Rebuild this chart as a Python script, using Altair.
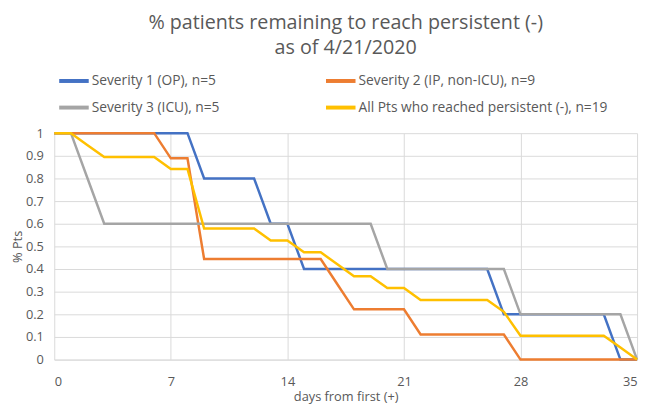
import altair as alt
import pandas as pd

days = list(range(36))
sev1 = [1, 1, 1, 1, 1, 1, 1, 1, 1, 0.8, 0.8, 0.8, 0.8, 0.6, 0.6,
        0.4, 0.4, 0.4, 0.4, 0.4, 0.4, 0.4, 0.4, 0.4, 0.4, 0.4, 0.4,
        0.2, 0.2, 0.2, 0.2, 0.2, 0.2, 0.2, 0, 0]
sev2 = [1, 1, 1, 1, 1, 1, 1, 0.889, 0.889,
        0.444, 0.444, 0.444, 0.444, 0.444, 0.444, 0.444, 0.444,
        0.333, 0.222, 0.222, 0.222, 0.222,
        0.111, 0.111, 0.111, 0.111, 0.111, 0.111,
        0, 0, 0, 0, 0, 0, 0, 0]
sev3 = [1, 1, 0.8, 0.6, 0.6, 0.6, 0.6, 0.6, 0.6, 0.6, 0.6, 0.6, 0.6,
        0.6, 0.6, 0.6, 0.6, 0.6, 0.6, 0.6,
        0.4, 0.4, 0.4, 0.4, 0.4, 0.4, 0.4, 0.4,
        0.2, 0.2, 0.2, 0.2, 0.2, 0.2, 0.2, 0]
allpts = [1, 1, 0.947, 0.895, 0.895, 0.895, 0.895, 0.842, 0.842,
          0.579, 0.579, 0.579, 0.579, 0.526, 0.526, 0.474, 0.474,
          0.421, 0.368, 0.368, 0.316, 0.316,
          0.263, 0.263, 0.263, 0.263, 0.263, 0.211,
          0.105, 0.105, 0.105, 0.105, 0.105, 0.105, 0.053, 0]

names = ["Severity 1 (OP), n=5", "Severity 2 (IP, non-ICU), n=9",
         "Severity 3 (ICU), n=5", "All Pts  who reached  persistent (-), n=19"]
colors = ["#4472C4", "#ED7D31", "#A5A5A5", "#FFC000"]
series = [sev1, sev2, sev3, allpts]

rows = []
for name, vals in zip(names, series):
    for d, v in zip(days, vals):
        rows.append({"day": d, "pct": v, "series": name})
df = pd.DataFrame(rows)

FONT = "Open Sans"
TXT = "#595959"

color_scale = alt.Scale(domain=names, range=colors)

base = alt.Chart(df).mark_line(strokeWidth=2.5).encode(
    x=alt.X("day:Q", scale=alt.Scale(domain=[0, 35], nice=False),
            axis=alt.Axis(values=[0, 7, 14, 21, 28, 35], title="days from first (+)",
                          grid=True, gridColor="#D9D9D9", domainColor="#D9D9D9",
                          ticks=False, tickSize=0, labelFlush=True,
                          labelPadding=16, titlePadding=3)),
    y=alt.Y("pct:Q", scale=alt.Scale(domain=[0, 1], nice=False),
            axis=alt.Axis(values=[0, 0.1, 0.2, 0.3, 0.4, 0.5, 0.6, 0.7, 0.8, 0.9, 1],
                          format=".1~f", title="% Pts", grid=True, gridColor="#D9D9D9",
                          domain=False, ticks=False, tickSize=0,
                          labelPadding=11, titlePadding=1)),
    color=alt.Color("series:N", scale=color_scale,
                    legend=alt.Legend(orient="none", legendX=3, legendY=-70,
                                      columns=2, direction="horizontal", title=None,
                                      symbolType="stroke",
                                      symbolSize=900, symbolStrokeWidth=4,
                                      labelOffset=1, columnPadding=100,
                                      rowPadding=2, labelFontSize=14,
                                      labelColor=TXT, labelFont=FONT,
                                      labelLimit=400)),
)

layers = [base.transform_filter(alt.datum.series == n) for n in names]

chart = alt.layer(*layers).properties(
    width=592, height=230,
    padding={"left": 3, "top": 2, "right": 0, "bottom": 0},
    title=alt.TitleParams(["% patients remaining to reach persistent (-)", "as of 4/21/2020"],
                          fontSize=20, font=FONT, fontWeight="normal", color=TXT,
                          lineHeight=26, anchor="middle", offset=6),
).configure_axis(
    labelFont=FONT, titleFont=FONT, labelFontSize=13, titleFontSize=13,
    labelColor=TXT, titleColor=TXT, titleFontWeight="normal",
).configure_view(stroke=None)

chart.save("out.html", embed_options={"renderer": "svg", "actions": False})
